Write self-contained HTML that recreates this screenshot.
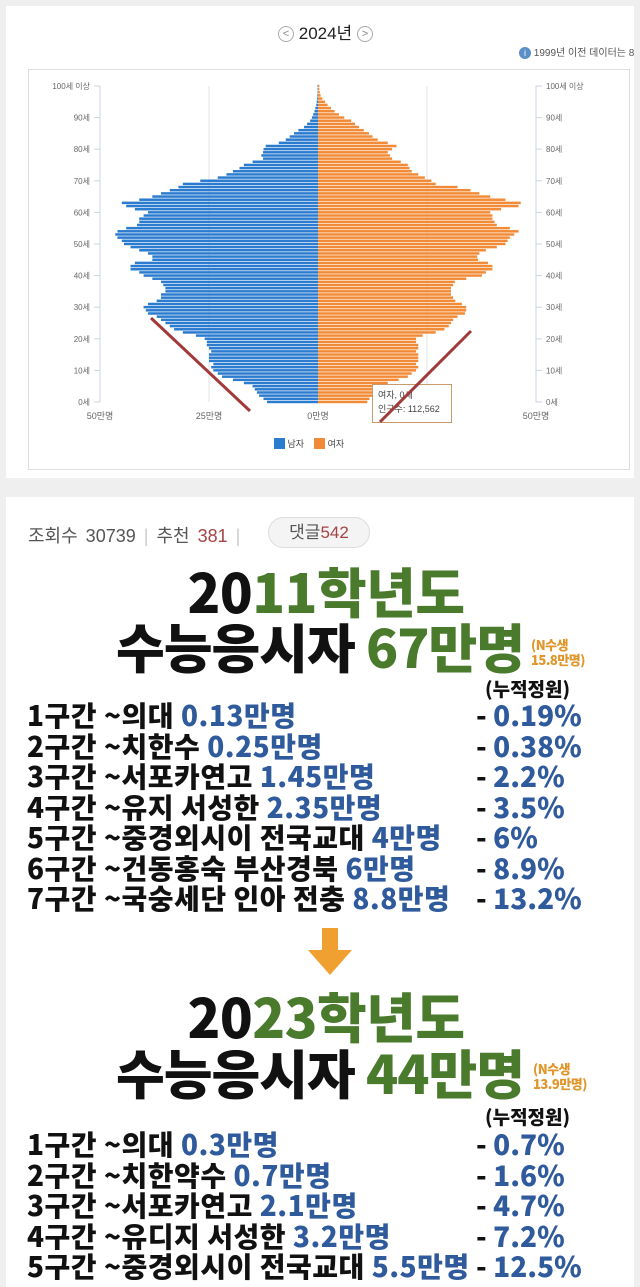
<!DOCTYPE html>
<html><head><meta charset="utf-8">
<style>
*{margin:0;padding:0;box-sizing:border-box}
body{width:640px;height:1280px;overflow:hidden;background:#efefef;font-family:"Liberation Sans","Noto Sans CJK KR",sans-serif;position:relative}
.abs{position:absolute}
#top{left:6px;top:6px;width:628px;height:472px;background:#fff}
#bottom{left:6px;top:497px;width:628px;height:790px;background:#fff}
.big{font-family:"Noto Sans CJK KR","Liberation Sans",sans-serif;font-weight:900;color:#111;white-space:nowrap}
.g{color:#4a7a2c}.b{color:#2f5a9c}
.row{left:27px;font-size:28px;letter-spacing:0.5px;line-height:30.5px}
.pct{left:476px;font-size:28px;letter-spacing:0px;line-height:30.5px}
</style></head><body>
<div id="top" class="abs"></div>
<div class="abs" style="left:278px;top:19px;font-size:17px;color:#222;white-space:nowrap">
<span style="display:inline-block;width:16px;height:16px;border:1px solid #aaa;border-radius:50%;font-size:11px;text-align:center;line-height:14px;color:#888;vertical-align:2px">&lt;</span>
<span> 2024년 </span>
<span style="display:inline-block;width:16px;height:16px;border:1px solid #aaa;border-radius:50%;font-size:11px;text-align:center;line-height:14px;color:#888;vertical-align:2px">&gt;</span></div>
<div class="abs" style="left:519px;top:44px;font-size:10px;color:#555;white-space:nowrap"><span style="display:inline-block;width:12px;height:12px;border-radius:50%;background:#5b8fc7;color:#fff;font-size:9px;text-align:center;line-height:12px">i</span> 1999년 이전 데이터는 8</div>
<div class="abs" style="left:28px;top:69px;width:602px;height:401px;border:1px solid #ddd"></div>
<svg class="abs" id="chart" style="left:0;top:0" width="640" height="478"></svg>
<div class="abs" style="left:372px;top:384px;width:80px;height:39px;background:#fff;border:1px solid #c99b6a;font-size:9px;color:#444;padding:3px 5px;line-height:14px">여자, 0세<br>인구수: 112,562</div>
<svg class="abs" style="left:0;top:0" width="640" height="478">
<line x1="151" y1="318" x2="250" y2="411" stroke="#a33a3a" stroke-width="3"/>
<line x1="471" y1="331" x2="380" y2="422" stroke="#a33a3a" stroke-width="3"/>
</svg>
<div class="abs" style="left:274px;top:437px;font-size:9px;color:#444;white-space:nowrap">
<span><span style="display:inline-block;width:11px;height:11px;background:#2b7bcf;vertical-align:-2px"></span> 남자</span>&nbsp;&nbsp;&nbsp;
<span><span style="display:inline-block;width:11px;height:11px;background:#f28b37;vertical-align:-2px"></span> 여자</span></div>

<div id="bottom" class="abs"></div>
<div class="abs" style="left:28px;top:522px;font-size:18px;color:#555;white-space:nowrap;word-spacing:3px">조회수 30739 <span style="color:#ccc">|</span> 추천 <span style="color:#a34444">381</span> <span style="color:#ccc">|</span></div>
<div class="abs" style="left:268px;top:517px;width:102px;height:31px;border:1px solid #ddd;border-radius:16px;background:#f4f4f4;font-size:17px;color:#555;text-align:center;line-height:29px">댓글<span style="color:#a34444">542</span></div>

<div class="abs big" style="left:0;width:640px;text-align:center;top:558px;font-size:54px;line-height:64px;letter-spacing:-0.5px;padding-left:12px">20<span class="g">11학년도</span></div>
<div class="abs big" style="left:116px;top:614px;font-size:53px;line-height:64px;letter-spacing:-1px">수능응시자 <span class="g">67만명</span></div>
<div class="abs big" style="left:531px;top:637px;font-size:13px;line-height:15px;color:#e0962a;letter-spacing:-0.5px">(N수생<br>15.8만명)</div>
<div class="abs big" style="left:485px;top:677px;font-size:19px;line-height:24px">(누적정원)</div>
<div class="abs big row" style="top:700px">
1구간 ~의대 <span class="b">0.13만명</span><br>2구간 ~치한수 <span class="b">0.25만명</span><br>3구간 ~서포카연고 <span class="b">1.45만명</span><br>4구간 ~유지 서성한 <span class="b">2.35만명</span><br>5구간 ~중경외시이 전국교대 <span class="b">4만명</span><br>6구간 ~건동홍숙 부산경북 <span class="b">6만명</span><br>7구간 ~국숭세단 인아 전충 <span class="b">8.8만명</span></div>
<div class="abs big pct" style="top:700px">- <span class="b">0.19%</span><br>- <span class="b">0.38%</span><br>- <span class="b">2.2%</span><br>- <span class="b">3.5%</span><br>- <span class="b">6%</span><br>- <span class="b">8.9%</span><br>- <span class="b">13.2%</span></div>
<svg class="abs" style="left:308px;top:928px" width="44" height="48"><rect x="14" y="0" width="16" height="24" fill="#f0a030"/><polygon points="0,22 44,22 22,47" fill="#f0a030"/></svg>
<div class="abs big" style="left:0;width:640px;text-align:center;top:983px;font-size:54px;line-height:64px;letter-spacing:-0.5px;padding-left:12px">20<span class="g">23학년도</span></div>
<div class="abs big" style="left:116px;top:1040px;font-size:53px;line-height:64px;letter-spacing:-1px">수능응시자 <span class="g">44만명</span></div>
<div class="abs big" style="left:533px;top:1061px;font-size:13px;line-height:15px;color:#e0962a;letter-spacing:-0.5px">(N수생<br>13.9만명)</div>
<div class="abs big" style="left:485px;top:1105px;font-size:19px;line-height:24px">(누적정원)</div>
<div class="abs big row" style="top:1129px">
1구간 ~의대 <span class="b">0.3만명</span><br>2구간 ~치한약수 <span class="b">0.7만명</span><br>3구간 ~서포카연고 <span class="b">2.1만명</span><br>4구간 ~유디지 서성한 <span class="b">3.2만명</span><br>5구간 ~중경외시이 전국교대 <span class="b">5.5만명</span></div>
<div class="abs big pct" style="top:1129px">- <span class="b">0.7%</span><br>- <span class="b">1.6%</span><br>- <span class="b">4.7%</span><br>- <span class="b">7.2%</span><br>- <span class="b">12.5%</span></div>

<script>
const male=[11.7,12.5,13.5,14,14.5,15,17,19.5,22,23,
24,24.5,24,25,25,25,24.5,25,25.5,25.5,
26,28,31,33,34,35,36,37,39,39.5,
40,39,37,36,36,35,35,35.5,36,38,
40,41,43,43,42,38,38,39,41,43,
44.5,45,46,46.5,46,44,41.5,41,41,40,
39,42,44,45,41,38,36,34,32,31,
27,23,21,19.5,18,17,15,12.6,13,12.6,
12.5,12,9,7.4,6.5,5.5,4.5,3.2,2.5,1.8,
1.4,1.1,0.8,0.6,0.4,0.3,0.2,0.15,0.1,0.1,0.1];
const female=[11.3,11.8,12.5,13,13.5,14,16,18.5,20.6,21.5,
22.5,23,22.5,23,23,23,22.5,23,23,22.5,
22.5,24,27,29,30,30.5,31,32,33.7,34,
34,33,31.5,31,30.5,30.5,30.5,31,31.4,34,
37.6,38.5,40,40,39,36.7,36.5,37,38.5,41,
43,43.5,44,45,46,44,41,40.5,40,40,
39.5,42,46,46.5,43,39.5,37,35,32,27,
26,24.5,23,21.5,21,20.6,19,17,16.5,16,
17,18,16,13.7,12.5,11.7,10.5,9.4,8.5,7.6,
6,4.8,3.8,3,2.2,1.6,1,0.6,0.4,0.3,0.3];
const ageTicks=[0,10,20,30,40,50,60,70,80,90,100];
const ageLabels=["0세","10세","20세","30세","40세","50세","60세","70세","80세","90세","100세 이상"];
const xTicks=[-50,-25,0,25,50];
const xLabels=["50만명","25만명","0만명","25만명","50만명"];
const svg=document.getElementById('chart');
const NS='http://www.w3.org/2000/svg';
const cx=318,pxPerMan=218/50,y0=402,pxPerAge=316/100;
const X=v=>cx+v*pxPerMan, Y=a=>y0-a*pxPerAge;
function mk(t,a){const e=document.createElementNS(NS,t);for(const k in a)e.setAttribute(k,a[k]);svg.appendChild(e);return e;}
xTicks.forEach(v=>{if(v!==0){const g=mk('line',{x1:X(v),x2:X(v),y1:Y(100),y2:Y(0),stroke:(Math.abs(v)===50?'#c9d6e0':'#e3e3e3'),'stroke-width':1});

}});
xTicks.forEach((v,i)=>{const t=mk('text',{x:X(v),y:Y(0)+17,'font-size':9,fill:'#666','text-anchor':'middle'});t.textContent=xLabels[i];

});
ageTicks.forEach((a,i)=>{
 mk('line',{x1:X(-50)-6,x2:X(-50),y1:Y(a),y2:Y(a),stroke:'#c9d6e0'});
 mk('line',{x1:X(50),x2:X(50)+6,y1:Y(a),y2:Y(a),stroke:'#c9d6e0'});
 const l=mk('text',{x:X(-50)-10,y:Y(a)+3,'font-size':8,fill:'#666','text-anchor':'end'});l.textContent=ageLabels[i];
 
 
 const r=mk('text',{x:X(50)+10,y:Y(a)+3,'font-size':8,fill:'#666'});r.textContent=ageLabels[i];
 
 
});
male.forEach((v,a)=>{const r=mk('rect',{x:X(-v),y:Y(a)-1.3,width:X(0)-X(-v),height:2.5,fill:'#2b7bcf'});

});
female.forEach((v,a)=>{const r=mk('rect',{x:X(0),y:Y(a)-1.3,width:X(v)-X(0),height:2.5,fill:'#f28b37'});

});
</script>
</body></html>
